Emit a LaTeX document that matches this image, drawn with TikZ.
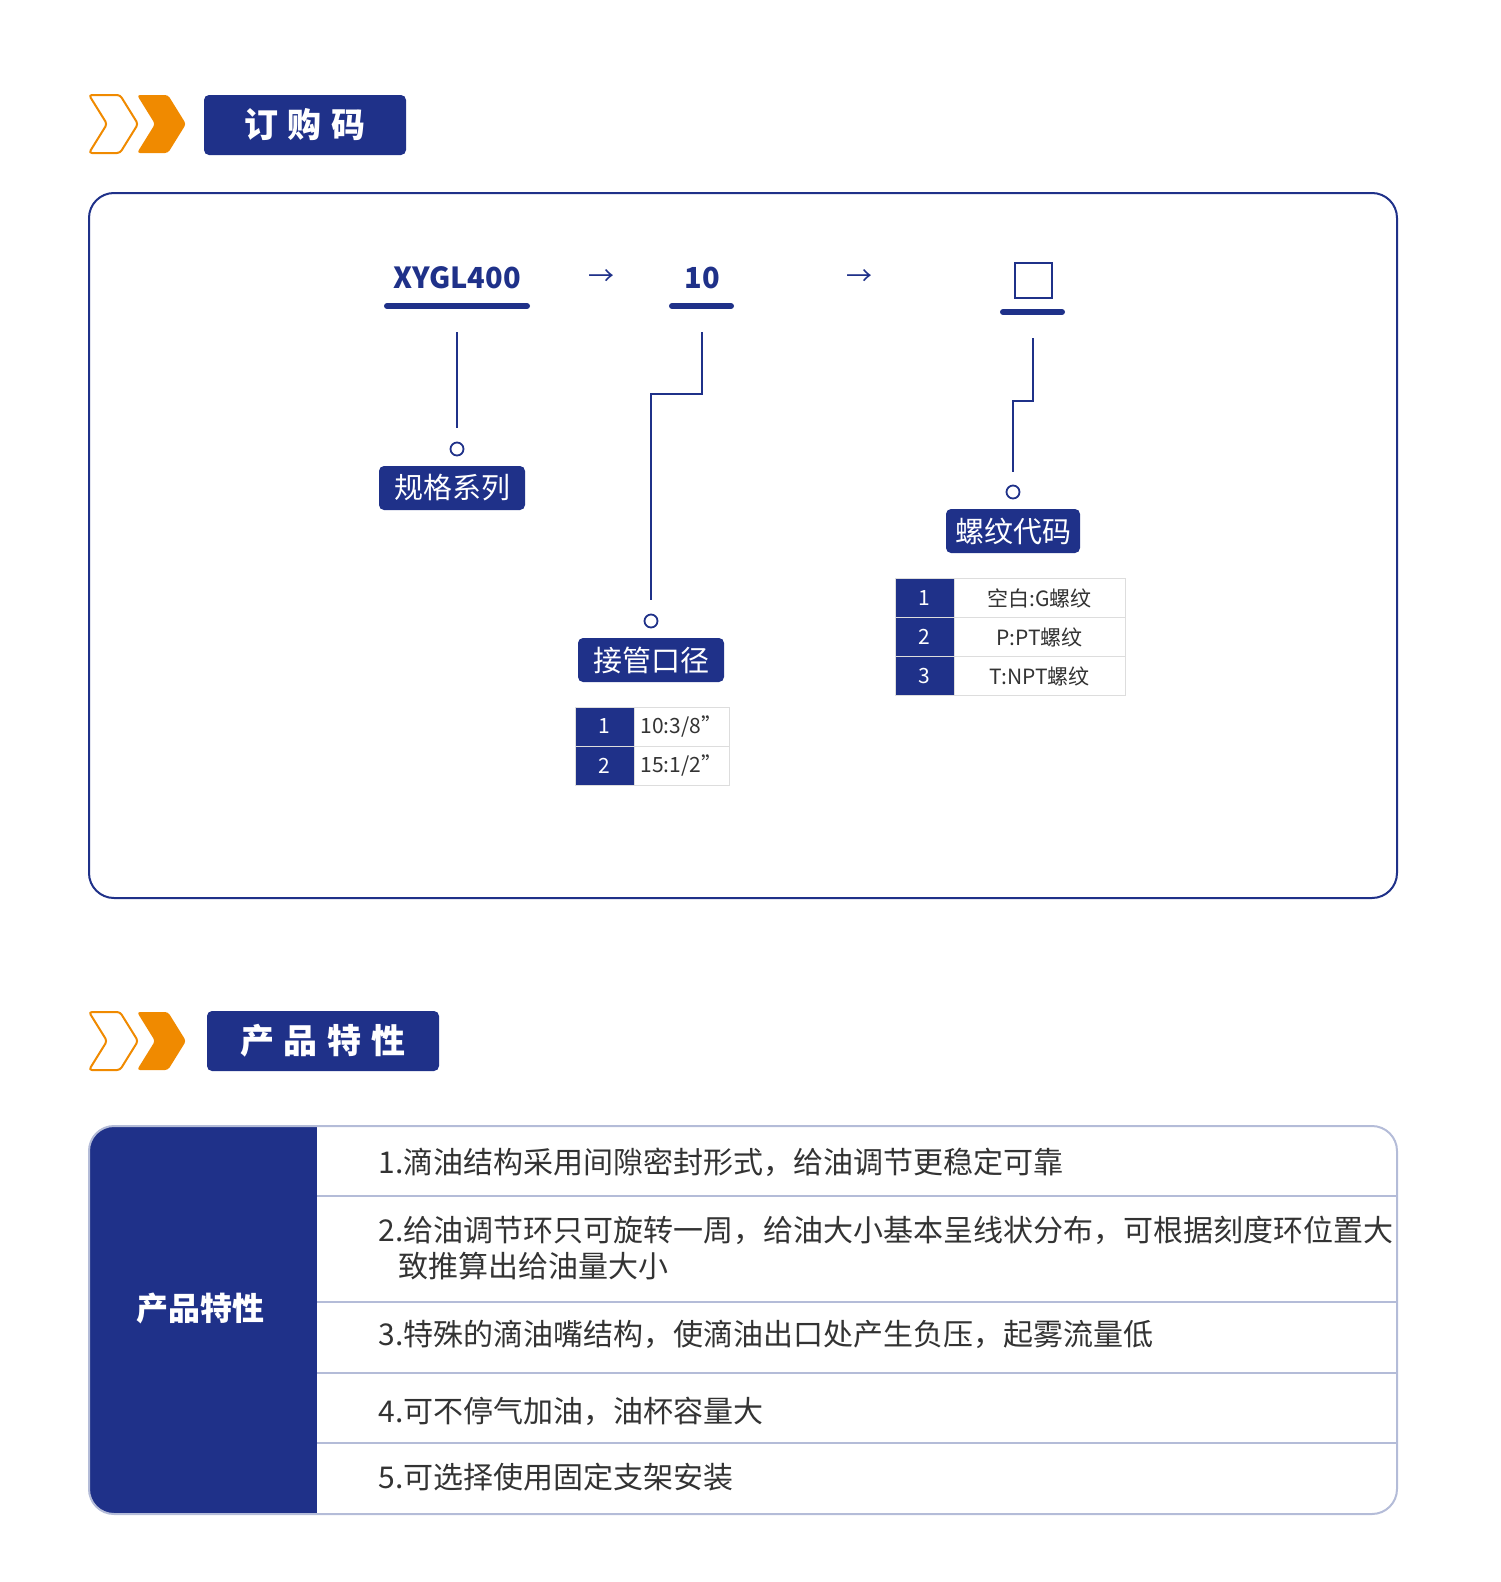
\documentclass[tikz,border=0pt]{standalone}
\usepackage{fontspec}
\setmainfont{Noto Sans CJK SC}
\definecolor{navy}{HTML}{1F3189}
\definecolor{org}{HTML}{F08A00}
\definecolor{txt}{HTML}{333333}
\definecolor{bord}{HTML}{B4BCD8}
\definecolor{cellb}{HTML}{DDDDDD}
\tikzset{
 lab/.style={fill=navy,rounded corners=5pt,text=white,inner sep=0pt,font=\fontsize{29}{30}\selectfont},
 conn/.style={navy,line width=2pt},
 dot/.style={circle,draw=navy,line width=1.8pt,minimum size=13pt,inner sep=0pt},
 bar/.style={navy,line width=6pt,line cap=round},
 numc/.style={fill=navy,draw=cellb,text=white,minimum width=59pt,minimum height=39pt,inner sep=0pt,font=\fontsize{21}{22}\selectfont},
 valc/.style={fill=white,draw=cellb,text=txt,minimum height=39pt,inner sep=0pt,font=\fontsize{21}{22}\selectfont},
 feat/.style={anchor=west,text=txt,font=\fontsize{30}{36}\selectfont,align=left}
}
\begin{document}
\begin{tikzpicture}[x=1pt,y=-1pt]
\useasboundingbox (0,0) rectangle (1500,1582);
% header 1
\foreach \yy/\w/\txt [count=\i] in {95/202/{订\hspace{12pt}购\hspace{12pt}码},1012/232/{产\hspace{12pt}品\hspace{12pt}特\hspace{12pt}性}}{
 \draw[org,line width=2pt,rounded corners=3pt] (89,\yy) -- (120,\yy) -- (138,\yy+29) -- (120,\yy+58) -- (89,\yy+58) -- (107,\yy+29) -- cycle;
 \fill[org,rounded corners=3pt] (137,\yy) -- (168,\yy) -- (186,\yy+29) -- (168,\yy+58) -- (137,\yy+58) -- (155,\yy+29) -- cycle;
}
\node[fill=navy,rounded corners=5pt,minimum width=202pt,minimum height=60pt,text=white,font=\fontsize{34}{36}\selectfont\bfseries] (t1) at (305,125) {订\hspace{10pt}购\hspace{10pt}码};
\node[fill=navy,rounded corners=5pt,minimum width=232pt,minimum height=60pt,text=white,font=\fontsize{34}{36}\selectfont\bfseries] (t2) at (323,1041) {产\hspace{10pt}品\hspace{10pt}特\hspace{10pt}性};
% frame
\draw[navy,line width=2pt,rounded corners=25pt] (89,193) rectangle (1397,898);
% codes
\node[text=navy,font=\fontsize{29}{30}\selectfont\bfseries] (c1) at (457,278) {XYGL400};
\node[text=navy,font=\fontsize{26}{30}\selectfont] (a1) at (601,278) {→};
\node[text=navy,font=\fontsize{29}{30}\selectfont\bfseries] (c2) at (702,278) {10};
\node[text=navy,font=\fontsize{26}{30}\selectfont] (a2) at (859,278) {→};
\node[draw=navy,line width=2pt,minimum width=37pt,minimum height=35pt,inner sep=0pt] (c3) at (1033,280) {};
\draw[bar] (387,306) -- (527,306);
\draw[bar] (672,306) -- (731,306);
\draw[bar] (1003,312) -- (1062,312);
% branches
\coordinate (s1) at (457,332);
\coordinate (s2) at (702,332);
\coordinate (s3) at (1033,338);
\node[dot] (d1) at (457,449) {};
\node[dot] (d2) at (651,621) {};
\node[dot] (d3) at (1013,492) {};
\draw[conn] (s1) -- (457,428);
\draw[conn] (s2) -- (702,394) -- (651,394) -- (651,600);
\draw[conn] (s3) -- (1033,401) -- (1013,401) -- (1013,472);
\node[lab,minimum width=146pt,minimum height=44pt] (l1) at (452,488) {规格系列};
\node[lab,minimum width=146pt,minimum height=44pt] (l2) at (651,660) {接管口径};
\node[lab,minimum width=134pt,minimum height=44pt] (l3) at (1013,531) {螺纹代码};
% table 1
\node[numc] (n11) at (604.5,726.5) {1};
\node[numc] (n12) at (604.5,766) {2};
\node[valc,minimum width=95pt] (v11) at (681.5,726.5) {10:3/8"};
\node[valc,minimum width=95pt] (v12) at (681.5,766) {15:1/2"};
% table 2
\node[numc] (n21) at (924.5,598) {1};
\node[numc] (n22) at (924.5,637) {2};
\node[numc] (n23) at (924.5,676) {3};
\node[valc,minimum width=171pt] (v21) at (1039.5,598) {空白:G螺纹};
\node[valc,minimum width=171pt] (v22) at (1039.5,637) {P:PT螺纹};
\node[valc,minimum width=171pt] (v23) at (1039.5,676) {T:NPT螺纹};
% features table
\begin{scope}
\clip[rounded corners=25pt] (89,1126) rectangle (1397,1514);
\fill[navy] (89,1126) rectangle (317,1514);
\foreach \yy in {1196,1302,1373,1443} \draw[bord,line width=2pt] (317,\yy) -- (1397,\yy);
\end{scope}
\draw[bord,line width=2pt,rounded corners=25pt] (89,1126) rectangle (1397,1514);
\node[text=white,font=\fontsize{32}{34}\selectfont\bfseries] (fh) at (200,1308) {产品特性};
\node[feat] (f1) at (375,1162) {1.滴油结构采用间隙密封形式，给油调节更稳定可靠};
\node[feat] (f2) at (375,1248) {2.给油调节环只可旋转一周，给油大小基本呈线状分布，可根据刻度环位置大\\\hspace*{20pt}致推算出给油量大小};
\node[feat] (f3) at (375,1334) {3.特殊的滴油嘴结构，使滴油出口处产生负压，起雾流量低};
\node[feat] (f4) at (375,1411) {4.可不停气加油，油杯容量大};
\node[feat] (f5) at (375,1477) {5.可选择使用固定支架安装};
\end{tikzpicture}
\end{document}
